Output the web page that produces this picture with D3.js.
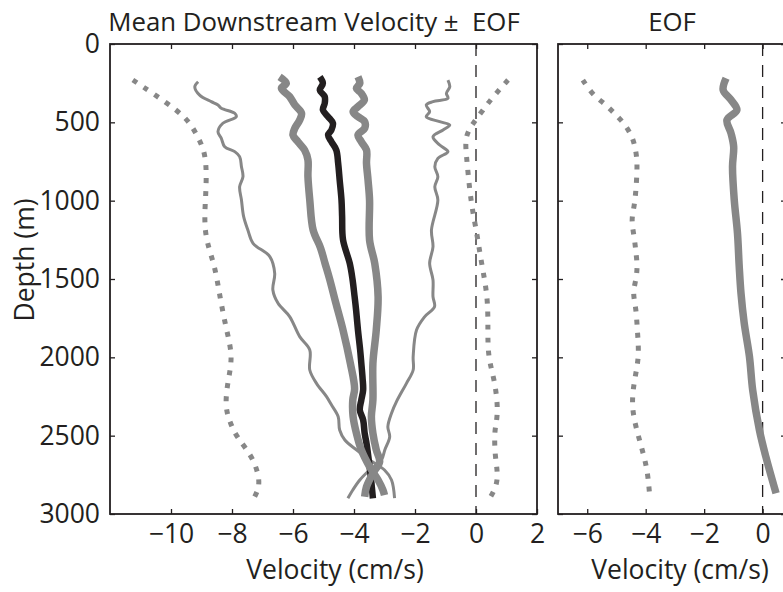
<!DOCTYPE html>
<html>
<head>
<meta charset="utf-8">
<script src="https://cdn.jsdelivr.net/npm/d3@7"></script>
<style>
  body { margin: 0; background: #fff; }
  text { font-family: "Open Sans", sans-serif; fill: #231f20; }
</style>
</head>
<body>
<svg id="fig" width="783" height="592"></svg>
<script>
// profils : [profondeur (m), vitesse (cm/s)]
var meanProfile = [[210,-5.12],[251,-5.02],[294,-5.12],[336,-4.96],[379,-4.96],[421,-5.02],[464,-4.85],
  [506,-4.69],[549,-4.74],[581,-4.85],[624,-4.74],[677,-4.58],[761,-4.52],[868,-4.47],[996,-4.41],
  [1100,-4.39],[1250,-4.36],[1400,-4.14],[1500,-4.05],[1613,-3.98],[1700,-3.93],[1826,-3.87],
  [1950,-3.80],[2038,-3.76],[2130,-3.72],[2209,-3.70],[2272,-3.76],[2336,-3.81],[2400,-3.70],
  [2485,-3.65],[2549,-3.59],[2650,-3.52],[2780,-3.44],[2900,-3.38]];
var meanMinusEof = [[210,-6.44],[251,-6.22],[283,-6.38],[336,-6.11],[389,-5.94],[442,-5.72],[485,-5.78],
  [538,-5.94],[581,-6.00],[624,-5.84],[677,-5.62],[740,-5.51],[847,-5.51],[996,-5.45],[1187,-5.34],
  [1300,-5.10],[1400,-4.95],[1500,-4.80],[1650,-4.60],[1826,-4.36],[2038,-4.12],[2200,-3.98],
  [2272,-4.04],[2378,-4.03],[2485,-3.92],[2591,-3.76],[2698,-3.49],[2783,-3.21],[2847,-3.05],[2880,-3.00]];
var meanPlusEof = [[209,-3.87],[251,-3.81],[283,-3.92],[315,-3.76],[357,-3.66],[400,-3.87],[432,-4.03],
  [464,-3.87],[496,-3.65],[538,-3.65],[581,-3.87],[624,-3.76],[677,-3.59],[761,-3.59],[868,-3.54],
  [996,-3.49],[1251,-3.49],[1400,-3.32],[1613,-3.21],[1826,-3.27],[2038,-3.38],[2272,-3.38],
  [2378,-3.43],[2485,-3.38],[2591,-3.27],[2666,-3.16],[2740,-3.38],[2826,-3.59],[2890,-3.65]];
var minus2Eof = [[241,-9.11],[273,-9.22],[326,-9.06],[368,-8.68],[389,-8.46],[410,-8.35],[442,-7.91],
  [464,-7.86],[506,-8.30],[560,-8.46],[602,-8.35],[656,-8.24],[687,-7.91],[719,-7.75],[783,-7.69],
  [847,-7.64],[911,-7.75],[996,-7.69],[1100,-7.62],[1187,-7.48],[1272,-7.31],[1357,-6.76],[1464,-6.60],
  [1570,-6.66],[1655,-6.49],[1740,-6.11],[1868,-5.78],[1953,-5.45],[2081,-5.45],[2166,-5.23],
  [2251,-4.90],[2300,-4.75],[2378,-4.52],[2464,-4.47],[2528,-4.30],[2591,-3.92],[2655,-3.49],
  [2719,-3.00],[2783,-2.77],[2898,-2.67]];
var plus2Eof = [[230,-0.92],[273,-0.86],[315,-0.97],[347,-0.92],[368,-1.41],[389,-1.63],[432,-1.52],
  [464,-1.63],[496,-1.19],[517,-0.86],[549,-1.08],[592,-1.41],[645,-1.19],[687,-0.92],[730,-1.25],
  [783,-1.35],[847,-1.25],[911,-1.35],[996,-1.25],[1187,-1.46],[1294,-1.41],[1400,-1.52],[1506,-1.41],
  [1613,-1.41],[1677,-1.36],[1740,-1.68],[1826,-1.95],[1996,-2.06],[2081,-2.06],[2166,-2.28],
  [2280,-2.60],[2357,-2.77],[2443,-2.89],[2507,-2.83],[2591,-2.99],[2655,-3.10],[2719,-3.49],
  [2783,-3.81],[2847,-4.04],[2900,-4.20]];
var envLeft = [[230,-11.25],[315,-10.59],[421,-9.82],[496,-9.39],[613,-9.06],[719,-8.84],[932,-8.84],
  [1208,-8.95],[1400,-8.57],[1613,-8.40],[1826,-8.18],[1996,-7.97],[2145,-8.13],[2315,-8.24],
  [2421,-8.05],[2507,-7.86],[2634,-7.31],[2804,-7.04],[2890,-7.26]];
var envRight = [[230,1.05],[336,0.56],[421,0.23],[506,-0.10],[592,-0.37],[719,-0.31],[932,-0.21],
  [1081,-0.10],[1187,0.01],[1400,0.18],[1613,0.39],[1826,0.39],[1996,0.39],[2145,0.61],[2315,0.72],
  [2421,0.67],[2464,0.61],[2613,0.61],[2740,0.72],[2826,0.67],[2900,0.45]];
var eofProfile = [[219,-1.25],[294,-1.35],[357,-1.08],[421,-0.88],[485,-1.22],[570,-1.08],[656,-0.99],
  [783,-1.03],[996,-0.97],[1208,-0.86],[1421,-0.80],[1590,-0.74],[1781,-0.63],
  [1996,-0.45],[2209,-0.34],[2464,-0.11],[2634,0.11],[2868,0.46]];
var eofEnvelope = [[230,-6.15],[326,-5.81],[379,-5.41],[443,-5.07],[505,-4.74],[591,-4.45],[677,-4.34],
  [762,-4.28],[932,-4.33],[1038,-4.39],[1123,-4.50],[1230,-4.39],[1336,-4.33],[1421,-4.28],
  [1506,-4.33],[1591,-4.45],[1677,-4.33],[1847,-4.28],[1996,-4.22],[2145,-4.39],[2315,-4.50],
  [2485,-4.28],[2634,-4.05],[2740,-3.93],[2868,-3.87]];

var depthTicks = [0, 500, 1000, 1500, 2000, 2500, 3000];
var velTicksLeft = [-10, -8, -6, -4, -2, 0, 2];
var velTicksRight = [-6, -4, -2, 0];

var svg = d3.select("#fig");
var gris = "#878787", noir = "#231f20";

var yScale = d3.scaleLinear().domain([0, 3000]).range([44, 514]);
var xLeft = d3.scaleLinear().domain([-12, 2]).range([110, 537]);
var xRight = d3.scaleLinear().domain([-7, 0.8]).range([558, 786]);

/* dessine un panneau : cadre, graduations, zéro */
function panneau(xs, xticks, labels) {
  var g = svg.append("g");
  var x0 = xs.range()[0], x1 = xs.range()[1];
  g.append("g").attr("transform", "translate(0,514)")
    .call(d3.axisBottom(xs).tickValues(xticks).tickSizeInner(-5).tickSizeOuter(0).tickPadding(10))
    .call(a => a.selectAll("text").attr("font-size", 26.5).attr("font-family", "Open Sans").attr("fill", noir));
  g.append("g").attr("transform", "translate(0,44)")
    .call(d3.axisTop(xs).tickValues(xticks).tickSizeInner(-5).tickSizeOuter(0).tickFormat(""));
  var ya = d3.axisLeft(yScale).tickValues(depthTicks).tickSizeInner(-5).tickSizeOuter(0)
    .tickPadding(10).tickFormat(d3.format("d"));
  if (!labels) ya.tickFormat("");
  g.append("g").attr("transform", "translate(" + x0 + ",0)").call(ya)
    .call(a => a.selectAll("text").attr("font-size", 26.5).attr("font-family", "Open Sans").attr("fill", noir));
  g.append("g").attr("transform", "translate(" + x1 + ",0)")
    .call(d3.axisRight(yScale).tickValues(depthTicks).tickSizeInner(-5).tickSizeOuter(0).tickFormat(""));
  g.selectAll(".domain").remove();
  g.selectAll(".tick line").attr("stroke", noir).attr("stroke-width", 1.3);
  g.append("rect").attr("x", x0).attr("y", 44).attr("width", x1 - x0).attr("height", 470)
    .attr("fill", "none").attr("stroke", noir).attr("stroke-width", 1.8);
  // ligne zéro en tirets
  g.append("line").attr("x1", xs(0)).attr("x2", xs(0)).attr("y1", 44).attr("y2", 514)
    .attr("stroke", noir).attr("stroke-width", 1.3).attr("stroke-dasharray", "12,9");
  return g;
}

function trace(g, xs, data, couleur, largeur, tirets, courbe) {
  var line = d3.line().x(d => xs(d[1])).y(d => yScale(d[0])).curve(courbe || d3.curveCatmullRom);
  g.append("path").datum(data).attr("d", line).attr("fill", "none")
    .attr("stroke", couleur).attr("stroke-width", largeur)
    .attr("stroke-linejoin", "round")
    .attr("stroke-dasharray", tirets || null);
}

var gL = panneau(xLeft, velTicksLeft, true);
trace(gL, xLeft, envLeft, gris, 5, "5,8", d3.curveBasis);
trace(gL, xLeft, envRight, gris, 5, "5,8", d3.curveBasis);
trace(gL, xLeft, minus2Eof, gris, 3);
trace(gL, xLeft, plus2Eof, gris, 3);
trace(gL, xLeft, meanProfile, noir, 6.5);
trace(gL, xLeft, meanMinusEof, gris, 7.5);
trace(gL, xLeft, meanPlusEof, gris, 7.5);

var gR = panneau(xRight, velTicksRight, false);
trace(gR, xRight, eofEnvelope, gris, 5, "5,8", d3.curveBasis);
trace(gR, xRight, eofProfile, gris, 7.5);

/* titres et étiquettes */
svg.append("text").attr("x", 314).attr("y", 31).attr("text-anchor", "middle")
  .attr("font-size", 25.8).style("white-space", "pre").text("Mean Downstream Velocity \u00b1  EOF");
svg.append("text").attr("x", 672).attr("y", 31).attr("text-anchor", "middle")
  .attr("font-size", 25.8).text("EOF");
svg.append("text").attr("x", 335).attr("y", 579).attr("text-anchor", "middle")
  .attr("font-size", 26.5).text("Velocity (cm/s)");
svg.append("text").attr("x", 680).attr("y", 579).attr("text-anchor", "middle")
  .attr("font-size", 26.5).text("Velocity (cm/s)");
svg.append("text").attr("transform", "translate(34,260) rotate(-90)").attr("text-anchor", "middle")
  .attr("font-size", 26.5).text("Depth (m)");
</script>
</body>
</html>
